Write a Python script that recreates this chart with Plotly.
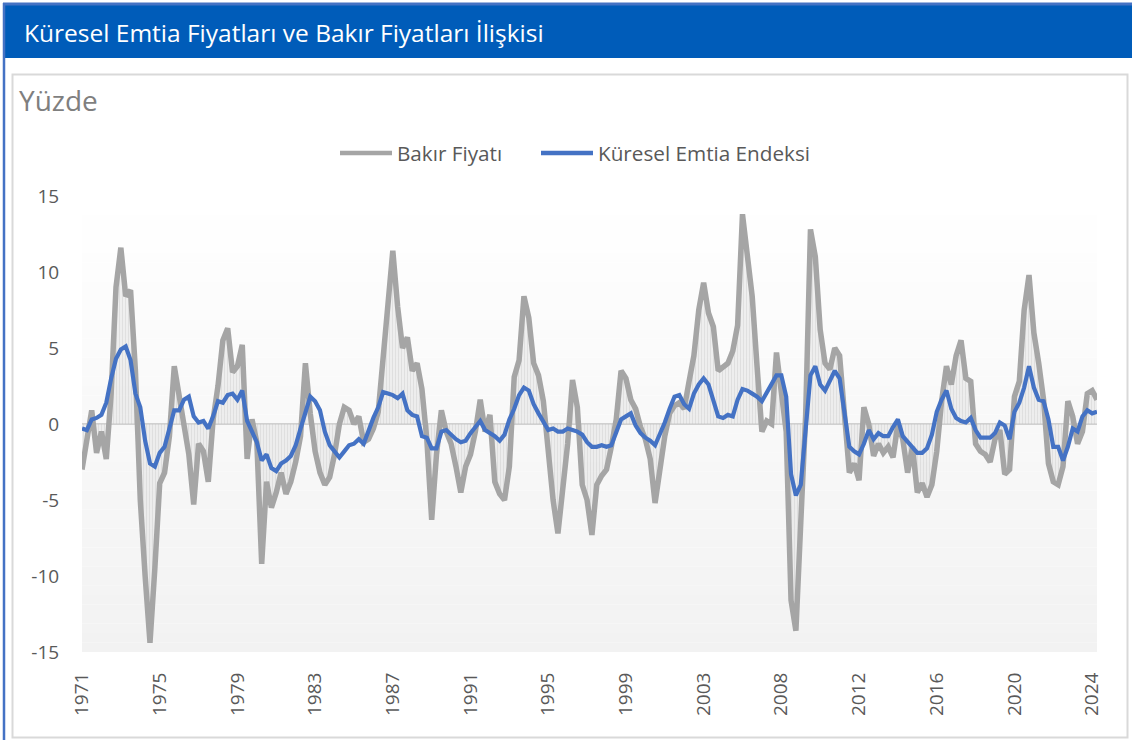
import plotly.graph_objects as go

# Quarterly annual-change readings (percent), 1971 onwards
copper = [
    -3.0, -0.8, 0.9, -1.9, -0.5, -2.3, 2.0, 9.0, 11.6, 8.4,
    8.8, 3.5, -5.0, -10.0, -14.4, -9.5, -3.9, -3.2, -0.8, 3.8,
    2.0, 0.0, -2.0, -5.3, -1.3, -1.8, -3.8, 0.3, 2.5, 5.5,
    6.3, 3.4, 3.8, 5.2, -2.3, 0.3, -1.2, -9.2, -3.8, -5.5,
    -4.5, -3.2, -4.6, -3.8, -2.5, -0.8, 4.0, 0.7, -1.8, -3.2,
    -4.0, -3.5, -2.0, 0.0, 1.1, 0.9, 0.0, 0.5, -1.2, -1.0,
    -0.3, 0.8, 4.2, 7.3, 11.4, 7.7, 5.0, 5.7, 3.5, 4.0,
    2.3, -1.0, -6.3, -2.0, 0.9, -0.5, -1.3, -2.8, -4.5, -2.8,
    -2.0, -0.5, 1.6, -0.5, 0.6, -3.8, -4.6, -5.0, -2.8, 3.1,
    4.2, 8.4, 7.0, 4.0, 3.2, 1.5, -2.0, -5.0, -7.2, -4.0,
    -1.3, 2.9, 1.1, -4.0, -5.0, -7.3, -4.0, -3.4, -3.0, -1.5,
    0.3, 3.5, 3.0, 1.6, 1.0, -0.2, -1.0, -2.3, -5.2, -3.0,
    -0.8, 0.7, 1.2, 1.4, 1.0, 2.8, 4.5, 7.5, 9.3, 7.3,
    6.4, 3.5, 3.8, 4.0, 4.8, 6.5, 13.8, 10.8, 8.4, 3.8,
    -0.5, 0.2, 0.0, 4.7, 2.2, -0.5, -11.6, -13.6, -6.5, 0.5,
    12.8, 11.0, 6.2, 4.0, 3.6, 5.0, 4.5, 0.5, -3.2, -2.6,
    -3.7, 1.1, 0.0, -2.1, -1.3, -1.9, -1.5, -2.2, 0.0, -1.0,
    -3.2, -1.5, -4.5, -3.9, -4.8, -4.0, -1.8, 1.5, 3.8, 2.6,
    4.5, 5.5, 3.0, 2.8, -1.3, -1.8, -2.0, -2.5, -1.0, -0.4,
    -3.3, -3.0, 1.8, 2.8, 7.5, 9.8, 6.0, 4.0, 1.6, -2.6,
    -3.8, -4.0, -2.8, 1.5, 0.5, -1.3, -0.5, 2.0, 2.2, 1.6,
]

commodity = [
    -0.3, -0.4, 0.3, 0.4, 0.6, 1.4, 3.0, 4.3, 4.9, 5.1,
    4.2, 2.0, 1.1, -1.1, -2.6, -2.8, -1.9, -1.5, -0.3, 0.9,
    0.9, 1.6, 1.8, 0.5, 0.1, 0.2, -0.3, 0.5, 1.5, 1.4,
    1.9, 2.0, 1.6, 2.2, 0.2, -0.5, -1.2, -2.4, -2.0, -2.9,
    -3.1, -2.6, -2.4, -2.1, -1.4, -0.3, 0.8, 1.8, 1.5, 0.9,
    -0.5, -1.4, -1.8, -2.2, -1.8, -1.4, -1.3, -1.0, -1.3, -0.4,
    0.4, 1.1, 2.1, 2.0, 1.9, 1.7, 2.0, 0.9, 0.6, 0.5,
    -0.8, -0.9, -1.6, -1.6, -0.5, -0.4, -0.7, -1.0, -1.2, -1.1,
    -0.6, -0.2, 0.2, -0.4, -0.6, -0.8, -1.1, -0.7, 0.3, 1.0,
    1.9, 2.4, 2.2, 1.3, 0.7, 0.2, -0.4, -0.3, -0.5, -0.5,
    -0.3, -0.4, -0.5, -0.7, -1.2, -1.5, -1.5, -1.4, -1.5, -1.4,
    -0.5, 0.3, 0.5, 0.7, -0.1, -0.6, -0.9, -1.1, -1.4, -0.7,
    0.1, 1.0, 1.8, 1.9, 1.3, 1.0, 2.0, 2.6, 3.0, 2.6,
    1.6, 0.5, 0.4, 0.6, 0.5, 1.6, 2.3, 2.2, 2.0, 1.8,
    1.5, 2.1, 2.7, 3.2, 3.2, 1.8, -3.3, -4.7, -4.0, 0.0,
    3.2, 3.8, 2.6, 2.2, 2.9, 3.5, 3.0, 0.5, -1.5, -1.8,
    -2.0, -1.3, -0.4, -1.0, -0.6, -0.8, -0.8, -0.2, 0.3, -0.8,
    -1.2, -1.5, -1.9, -1.9, -1.6, -0.7, 0.8, 1.6, 2.2, 1.0,
    0.4, 0.2, 0.1, 0.4, -0.4, -0.9, -0.9, -0.9, -0.6, 0.1,
    -0.1, -1.0, 0.8, 1.4, 2.4, 3.8, 2.4, 1.6, 1.5, 0.3,
    -1.5, -1.5, -2.4, -1.5, -0.3, -0.5, 0.5, 0.9, 0.7, 0.8,
]

year_labels = ["1971", "1975", "1979", "1983", "1987", "1991", "1995",
               "1999", "2003", "2008", "2012", "2016", "2020", "2024"]
y_ticks = [-15, -10, -5, 0, 5, 10, 15]
y_tick_labels = ["-15", "-10", "-5", "0", "5", "10", "15"]

series_names = ["Bakır Fiyatı", "Küresel Emtia Endeksi"]
title_text = "Küresel Emtia Fiyatları ve Bakır Fiyatları İlişkisi"
unit_text = "Yüzde"

W, H = 1132, 740
PLOT_L, PLOT_R, PLOT_T, PLOT_B = 82, 1097, 196, 652
FONT = "Open Sans"
TEXT_GRAY = "#595959"
COPPER_GRAY = "#A5A5A5"
INDEX_BLUE = "#4472C4"

x = list(range(len(copper)))
tick_step = 16


def px(xp):
    return xp / W


def py(yp):
    return 1 - yp / H


fig = go.Figure()

fig.add_trace(go.Scatter(
    x=x, y=copper, name=series_names[0], mode="lines",
    line=dict(color=COPPER_GRAY, width=5.5),
    fill="tozeroy",
    fillcolor="rgba(222,222,222,0.55)",
    fillpattern=dict(shape="|", fgcolor="rgba(185,185,185,0.6)",
                     bgcolor="rgba(228,228,228,0.55)", size=3, solidity=0.3),
    hoverinfo="skip",
))
fig.add_trace(go.Scatter(
    x=x, y=commodity, name=series_names[1], mode="lines",
    line=dict(color=INDEX_BLUE, width=4.2),
    hoverinfo="skip",
))

shapes = []

# plot-area vertical gradient (white at the top, light gray at the bottom)
bands = 48
for i in range(bands):
    t = (i + 0.5) / bands
    c = round(255 - 13 * (1 - t))
    shapes.append(dict(
        type="rect", xref="x domain", yref="y domain",
        x0=0, x1=1, y0=i / bands, y1=(i + 1) / bands,
        fillcolor=f"rgb({c},{c},{c})", line=dict(width=0), layer="below",
    ))

# header bar and frame
shapes.append(dict(type="rect", xref="paper", yref="paper",
                   x0=px(3), x1=1, y0=py(58), y1=py(5),
                   fillcolor="#005CB9", line=dict(width=0), layer="above"))
shapes.append(dict(type="line", xref="paper", yref="paper",
                   x0=px(3), x1=1, y0=py(4), y1=py(4),
                   line=dict(color=INDEX_BLUE, width=3)))
shapes.append(dict(type="line", xref="paper", yref="paper",
                   x0=px(4), x1=px(4), y0=0, y1=py(3),
                   line=dict(color=INDEX_BLUE, width=2.5)))
shapes.append(dict(type="rect", xref="paper", yref="paper",
                   x0=px(12.5), x1=px(1127.5), y0=py(737.5), y1=py(74.5),
                   fillcolor="rgba(0,0,0,0)",
                   line=dict(color="#D9D9D9", width=2)))

# legend samples
legend_y = py(153)
shapes.append(dict(type="line", xref="paper", yref="paper",
                   x0=px(340), x1=px(392), y0=legend_y, y1=legend_y,
                   line=dict(color=COPPER_GRAY, width=4.5)))
shapes.append(dict(type="line", xref="paper", yref="paper",
                   x0=px(541), x1=px(593), y0=legend_y, y1=legend_y,
                   line=dict(color=INDEX_BLUE, width=4.5)))

annotations = [
    dict(text=title_text, xref="paper", yref="paper", x=px(22), y=py(32),
         xanchor="left", yanchor="middle", showarrow=False,
         font=dict(family=FONT, size=24.5, color="white")),
    dict(text=unit_text, xref="paper", yref="paper", x=px(17), y=py(100),
         xanchor="left", yanchor="middle", showarrow=False,
         font=dict(family=FONT, size=28, color="#7F7F7F")),
    dict(text=series_names[0], xref="paper", yref="paper", x=px(395), y=legend_y,
         xanchor="left", yanchor="middle", showarrow=False,
         font=dict(family=FONT, size=20.7, color=TEXT_GRAY)),
    dict(text=series_names[1], xref="paper", yref="paper", x=px(596), y=legend_y,
         xanchor="left", yanchor="middle", showarrow=False,
         font=dict(family=FONT, size=20.7, color=TEXT_GRAY)),
]

fig.update_layout(
    width=W, height=H, autosize=False,
    margin=dict(l=0, r=0, t=0, b=0, autoexpand=False),
    paper_bgcolor="white", plot_bgcolor="white",
    showlegend=False,
    shapes=shapes, annotations=annotations,
    xaxis=dict(
        domain=[px(PLOT_L), px(PLOT_R)],
        range=[0, len(copper) - 1],
        tickvals=[i * tick_step for i in range(len(year_labels))],
        ticktext=year_labels, tickangle=-90,
        ticks="outside", ticklen=12, tickcolor="rgba(0,0,0,0)",
        tickfont=dict(family=FONT, size=19, color=TEXT_GRAY),
        showgrid=False, zeroline=False, showline=False, automargin=False,
    ),
    yaxis=dict(
        domain=[1 - PLOT_B / H, 1 - PLOT_T / H],
        range=[-15, 15], tickvals=y_ticks, ticktext=y_tick_labels,
        ticks="outside", ticklen=18, tickcolor="rgba(0,0,0,0)",
        tickfont=dict(family=FONT, size=19, color=TEXT_GRAY),
        showgrid=False, zeroline=True, zerolinecolor="#D0D0D0", zerolinewidth=1.5,
        showline=False, automargin=False,
    ),
)

fig.write_html("out.html")
